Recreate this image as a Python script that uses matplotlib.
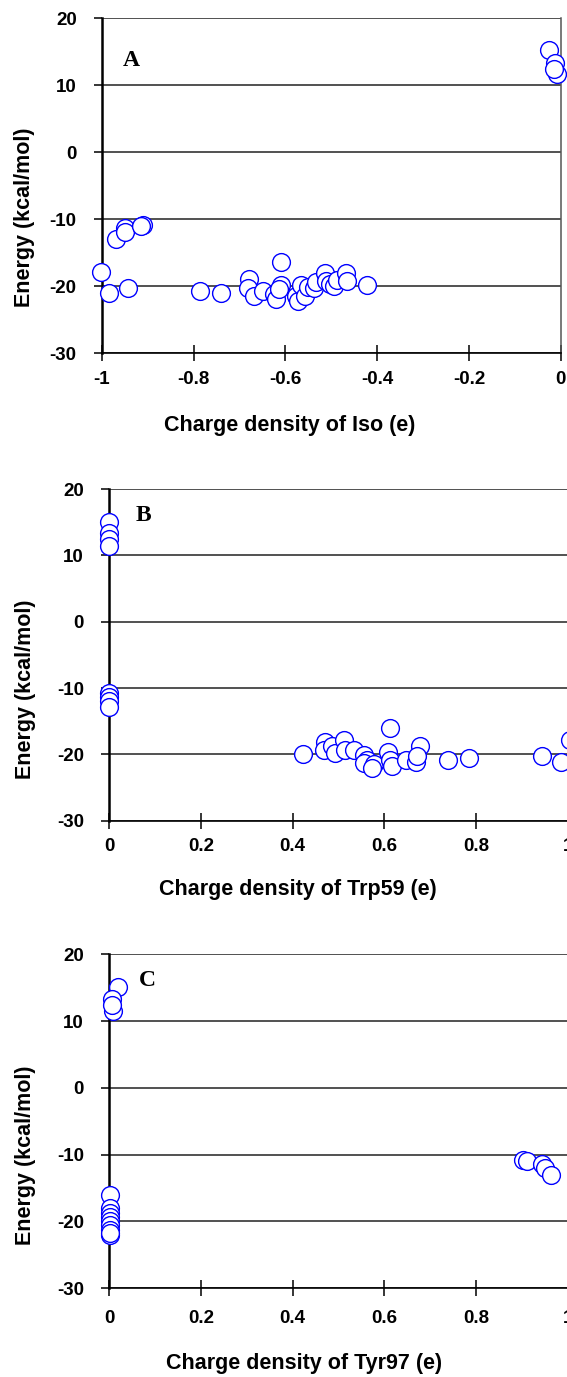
import matplotlib
matplotlib.use("Agg")
import matplotlib.pyplot as plt

# panel A: charge density of Iso vs energy
iso_charge = [-0.025, -0.012, -0.008, -0.015,
              -0.969, -0.950, -0.949, -0.910, -0.914,
              -1.002, -0.985, -0.942, -0.786, -0.739,
              -0.678, -0.681, -0.669, -0.649, -0.624, -0.620,
              -0.609, -0.609, -0.614, -0.576, -0.573, -0.565,
              -0.556, -0.551, -0.538, -0.534, -0.513, -0.511,
              -0.503, -0.494, -0.488, -0.468, -0.465, -0.422]
iso_energy = [15.2, 13.4, 11.7, 12.5,
              -12.9, -11.3, -11.9, -10.9, -11.0,
              -17.8, -21.0, -20.3, -20.7, -21.0,
              -18.9, -20.3, -21.4, -20.7, -21.2, -21.9,
              -16.3, -19.75, -20.4, -21.4, -22.2, -19.75,
              -21.5, -20.1, -20.25, -19.3, -18.0, -19.25,
              -19.7, -20.0, -19.0, -18.0, -19.25, -19.75]

# panel B: charge density of Trp59 vs energy
trp_charge = [0.0, 0.0, 0.0, 0.0,
              0.0, 0.0, 0.0, 0.0,
              0.422, 0.470, 0.468, 0.486, 0.492, 0.511, 0.515, 0.533,
              0.555, 0.562, 0.555, 0.577, 0.573, 0.612, 0.608, 0.613,
              0.617, 0.646, 0.668, 0.677, 0.672, 0.739, 0.785, 0.943,
              0.985, 1.004]
trp_energy = [15.1, 13.4, 12.4, 11.4,
              -10.8, -11.3, -11.95, -12.8,
              -19.95, -18.2, -19.4, -18.8, -19.8, -17.8, -19.3, -19.3,
              -20.1, -20.8, -21.3, -21.45, -22.1, -16.1, -19.6, -20.85,
              -21.75, -20.85, -21.1, -18.7, -20.2, -20.85, -20.5, -20.25,
              -21.1, -17.8]

# panel C: charge density of Tyr97 vs energy
tyr_charge = [0.020, 0.006, 0.008, 0.006,
              0.002, 0.002, 0.002, 0.002, 0.002, 0.002, 0.002, 0.002, 0.002,
              0.902, 0.910, 0.943, 0.949, 0.964]
tyr_energy = [15.06, 13.3, 11.5, 12.4,
              -16.1, -18.0, -18.8, -19.3, -19.9, -20.5, -21.3, -22.0, -21.7,
              -10.8, -10.9, -11.4, -12.0, -13.0]

y_ticks = [-30, -20, -10, 0, 10, 20]
xa_ticks = [-1, -0.8, -0.6, -0.4, -0.2, 0]
xa_labels = ["-1", "-0.8", "-0.6", "-0.4", "-0.2", "0"]
xb_ticks = [0, 0.2, 0.4, 0.6, 0.8, 1]
xb_labels = ["0", "0.2", "0.4", "0.6", "0.8", "1"]

W, H = 567, 1377
fig = plt.figure(figsize=(W / 100, H / 100), dpi=100)

sans = "Liberation Sans"
serif = "Liberation Serif"
tick_fs = 13.5
label_fs = 15.5


def px_box(left, right, top, bottom):
    return [left / W, 1 - bottom / H, (right - left) / W, (bottom - top) / H]


def setup(ax, xlim, xt, xl, show_right, xpad):
    ax.set_xlim(*xlim)
    ax.set_ylim(-30, 20)
    ax.set_yticks(y_ticks)
    ax.set_yticklabels([str(v) for v in y_ticks])
    ax.set_xticks(xt)
    ax.set_xticklabels(xl)
    ax.yaxis.grid(True, color="#222222", linewidth=1.1)
    ax.set_axisbelow(True)
    ax.spines["top"].set_visible(False)
    ax.spines["left"].set_linewidth(1.8)
    ax.spines["left"].set_color("black")
    ax.spines["bottom"].set_linewidth(1.2)
    ax.spines["bottom"].set_color("black")
    if show_right:
        ax.spines["right"].set_color("#555555")
        ax.spines["right"].set_linewidth(1.1)
    else:
        ax.spines["right"].set_visible(False)
    ax.tick_params(axis="y", direction="out", length=6, width=1.1, pad=12)
    ax.tick_params(axis="x", direction="inout", length=11.5, width=1.1, pad=xpad)
    for lab in ax.get_xticklabels() + ax.get_yticklabels():
        lab.set_fontfamily(sans)
        lab.set_fontweight("bold")
        lab.set_fontsize(tick_fs)


def scatter(ax, x, y):
    ax.plot(x, y, linestyle="none", marker="o", markersize=12.8,
            markerfacecolor="white", markeredgecolor="#0000ff",
            markeredgewidth=1.0, zorder=5, clip_on=False)


# Panel A
axA = fig.add_axes(px_box(101.7, 560.7, 18.3, 353.3))
setup(axA, (-1, 0), xa_ticks, xa_labels, True, 6.8)
scatter(axA, iso_charge, iso_energy)

# Panel B
axB = fig.add_axes(px_box(109, 568, 489, 820.7))
setup(axB, (0, 1), xb_ticks, xb_labels, False, 6.8)
scatter(axB, trp_charge, trp_energy)

# Panel C
axC = fig.add_axes(px_box(109, 568, 954.3, 1288.3))
setup(axC, (0, 1), xb_ticks, xb_labels, False, 10)
scatter(axC, tyr_charge, tyr_energy)


# axis titles and panel letters, placed in pixel positions
def ftext(x, y, s, **kw):
    fig.text(x / W, 1 - y / H, s, ha="center", va="center", **kw)


lab_kw = dict(fontfamily=sans, fontweight="bold", fontsize=label_fs)
ftext(290, 425, "Charge density of Iso (e)", **lab_kw)
ftext(298, 890, "Charge density of Trp59 (e)", **lab_kw)
ftext(304, 1363, "Charge density of Tyr97 (e)", **lab_kw)
ftext(25, 217, "Energy (kcal/mol)", rotation=90, **lab_kw)
ftext(26, 689, "Energy (kcal/mol)", rotation=90, **lab_kw)
ftext(26, 1155, "Energy (kcal/mol)", rotation=90, **lab_kw)

let_kw = dict(fontfamily=serif, fontweight="bold", fontsize=17)
ftext(131.5, 60.7, "A", **let_kw)
ftext(143, 515.7, "B", **let_kw)
ftext(147, 981, "C", **let_kw)

fig.savefig("out.png", dpi=100)
